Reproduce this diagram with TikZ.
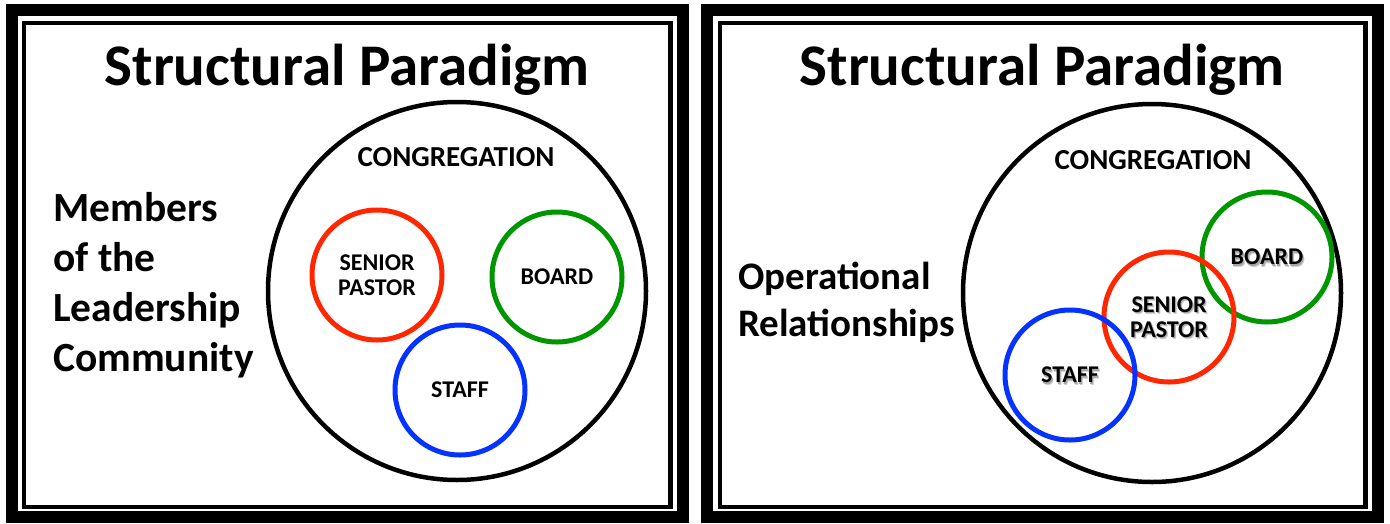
\documentclass[tikz,border=0pt]{standalone}
\usepackage{fontspec}
\setmainfont{Carlito}
\definecolor{ringred}{RGB}{255,38,0}
\definecolor{ringgreen}{RGB}{0,150,0}
\definecolor{ringblue}{RGB}{4,51,255}
\begin{document}
\begin{tikzpicture}[x=1pt,y=-1pt,
  outerband/.style={line width=12pt,draw=black},
  innerband/.style={line width=4.5pt,draw=black},
  bigring/.style={circle,draw=black,line width=4.5pt,minimum size=378pt,inner sep=0pt},
  ring/.style={circle,line width=5pt,minimum size=130pt,inner sep=0pt},
  title/.style={font=\fontsize{59}{64}\selectfont\bfseries,inner sep=0pt},
  side/.style={font=\fontsize{41.5}{50}\selectfont\bfseries,align=left,anchor=west,inner sep=0pt},
  sidetwo/.style={side,font=\fontsize{39}{47}\selectfont\bfseries},
  cong/.style={font=\fontsize{29}{30}\selectfont\bfseries,inner sep=0pt},
  lbl/.style={font=\fontsize{24}{25}\selectfont\bfseries,align=center,inner sep=0pt}
]
\useasboundingbox (0,0) rectangle (1390,523);
\fill[white] (0,0) rectangle (1390,523);

% panel frames: heavy outer band and thin inner rule
\draw[outerband] (12,10) rectangle (683,517);
\draw[innerband] (24,23) rectangle (670.5,507);
\draw[outerband] (707,10) rectangle (1378,517);
\draw[innerband] (720,23) rectangle (1365.5,507);

% ---------- left panel ----------
\node[title] (tL) at (347,70) {Structural Paradigm};
\node[bigring] (congL) at (457,291) {};
\node[cong] (congLtxt) at (456,157) {CONGREGATION};
\node[ring,draw=ringred] (spL) at (377,275) {};
\node[ring,draw=ringgreen] (bdL) at (557,277) {};
\node[ring,draw=ringblue] (stL) at (460,390) {};
\node[lbl] at (spL) {SENIOR\\PASTOR};
\node[lbl] at (bdL) {BOARD};
\node[lbl] at (stL) {STAFF};
\node[side] (memL) at (53,285) {Members\\of the\\Leadership\\Community};

% ---------- right panel ----------
\node[title] (tR) at (1042,70) {Structural Paradigm};
\node[bigring] (congR) at (1152,293) {};
\node[cong] (congRtxt) at (1153,160) {CONGREGATION};
\node[ring,draw=ringgreen] (bdR) at (1267,257) {};
\node[ring,draw=ringred] (spR) at (1169,317) {};
\node[ring,draw=ringblue] (stR) at (1070,375) {};
% labels with a soft drop shadow
\foreach \n/\t in {bdR/BOARD,spR/{SENIOR\\PASTOR},stR/STAFF}{
  \node[lbl,text=black!18] at ([xshift=1.8pt,yshift=-2.4pt]\n) {\t};
  \node[lbl,text=black!35] at ([xshift=1pt,yshift=-1.4pt]\n) {\t};
  \node[lbl] at (\n) {\t};
}
\node[sidetwo] (opR) at (738,302) {Operational\\Relationships};
\end{tikzpicture}
\end{document}
